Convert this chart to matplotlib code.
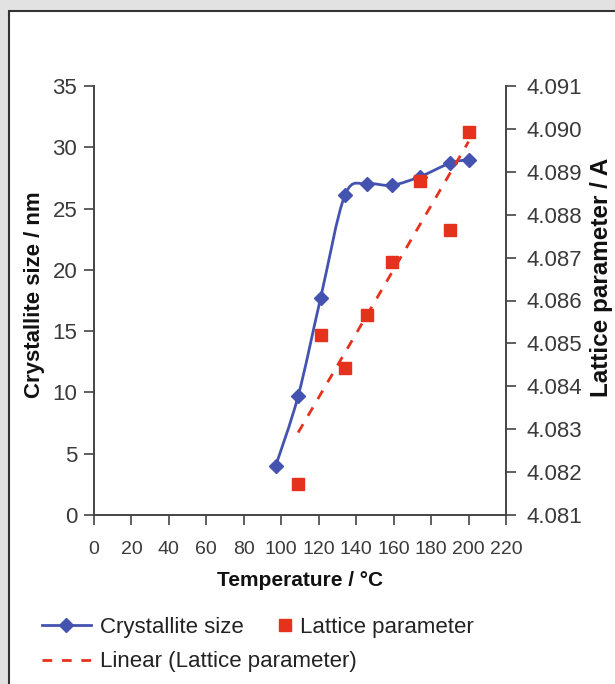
import numpy as np
import matplotlib
matplotlib.use("Agg")
import matplotlib.pyplot as plt
from matplotlib.path import Path
from matplotlib.patches import PathPatch, Rectangle
from matplotlib.lines import Line2D

plt.rcParams['font.family'] = ['Liberation Sans', 'DejaVu Sans']

# data
temp_size = [97, 109, 121, 134, 146, 159, 174, 190, 200]
crystallite_size = [4.0, 9.7, 17.7, 26.1, 27.0, 26.9, 27.6, 28.7, 29.0]

temp_lattice = [109, 121, 134, 146, 159, 174, 190, 200]
lattice_param = [4.08172, 4.08520, 4.08443, 4.08567, 4.08690, 4.08878, 4.08765, 4.08992]

x_ticks = list(range(0, 221, 20))
y_ticks = list(range(0, 36, 5))
y2_ticks = [4.081 + 0.001 * i for i in range(11)]

blue = '#4453B0'
red = '#E5321C'
txt = '#3a3a3a'
dash = (0, (3.5, 3.5))


def smooth_path(xs, ys):
    # excel-style smoothed line: cubic bezier through every point
    pts = np.column_stack([xs, ys]).astype(float)
    n = len(pts)
    verts = [pts[0]]
    codes = [Path.MOVETO]
    for i in range(n - 1):
        p0 = pts[max(i - 1, 0)]
        p1 = pts[i]
        p2 = pts[i + 1]
        p3 = pts[min(i + 2, n - 1)]
        c1 = p1 + (p2 - p0) / 6.0
        c2 = p2 - (p3 - p1) / 6.0
        verts += [c1, c2, p2]
        codes += [Path.CURVE4] * 3
    return Path(verts, codes)


fig = plt.figure(figsize=(6.15, 6.84), dpi=100)
fig.patch.set_facecolor('#e2e2e2')
# white panel with dark left/top border
fig.patches.append(Rectangle((9 / 615, -0.1), 1.2, (684 - 11) / 684 + 0.1,
                             transform=fig.transFigure, facecolor='white',
                             edgecolor='#333333', linewidth=1.5, zorder=-5))

ax = fig.add_axes([94 / 615, (684 - 515) / 684, 412 / 615, 429 / 684])
ax.patch.set_visible(False)
ax2 = ax.twinx()

ax.add_patch(PathPatch(smooth_path(temp_size, crystallite_size), facecolor='none',
                       edgecolor=blue, linewidth=2, zorder=3))
ax.plot(temp_size, crystallite_size, linestyle='none', marker='D', markersize=7,
        color=blue, zorder=4)

ax2.plot(temp_lattice, lattice_param, linestyle='none', marker='s', markersize=8,
         color=red, zorder=4)
k, b = np.polyfit(temp_lattice, lattice_param, 1)
xl = np.array([min(temp_lattice), max(temp_lattice)])
ax2.plot(xl, k * xl + b, color=red, linestyle=dash, linewidth=2, zorder=3)

ax.set_xlim(0, 220)
ax.set_ylim(0, 35)
ax2.set_ylim(4.081, 4.091)
ax.set_xticks(x_ticks)
ax.set_yticks(y_ticks)
ax2.set_yticks(y2_ticks)
ax2.set_yticklabels([f'{v:.3f}' for v in y2_ticks])

for a in (ax, ax2):
    a.spines['top'].set_visible(False)
    for s in a.spines.values():
        s.set_color('#444444')
        s.set_linewidth(1.2)
    a.tick_params(direction='out', length=7, width=1.2, color='#444444',
                  labelcolor=txt)
ax.tick_params(axis='x', pad=12, labelsize=14)
ax.tick_params(axis='y', pad=5, labelsize=16)
ax2.tick_params(axis='y', pad=8, labelsize=16)

ax.set_xlabel('Temperature / °C', fontsize=15, fontweight='bold', color='#111111',
              labelpad=9)
ax.set_ylabel('Crystallite size / nm', fontsize=16, fontweight='bold',
              color='#111111')
ax2.set_ylabel('Lattice parameter / A', fontsize=17.5, fontweight='bold',
               color='#111111')
ax.yaxis.set_label_coords(-0.119, 0.513)
ax2.yaxis.set_label_coords(1.203, 0.555)

h1 = Line2D([], [], color=blue, marker='D', markersize=7, linewidth=2)
h2 = Line2D([], [], color=red, marker='s', markersize=8, linestyle='none')
h3 = Line2D([], [], color=red, linestyle=dash, linewidth=2)
leg_kw = dict(frameon=False, fontsize=16, handletextpad=0.4, labelcolor='#222222',
              borderaxespad=0, borderpad=0)
fig.legend([h1], ['Crystallite size'], loc='center left', handlelength=2.2,
           bbox_to_anchor=(42 / 615, 1 - 627 / 684), **leg_kw)
fig.legend([h2], ['Lattice parameter'], loc='center left', handlelength=0.6,
           bbox_to_anchor=(278 / 615, 1 - 627 / 684), **leg_kw)
fig.legend([h3], ['Linear (Lattice parameter)'], loc='center left', handlelength=2.2,
           bbox_to_anchor=(42 / 615, 1 - 662 / 684), **leg_kw)

fig.savefig('out.png', dpi=100)
